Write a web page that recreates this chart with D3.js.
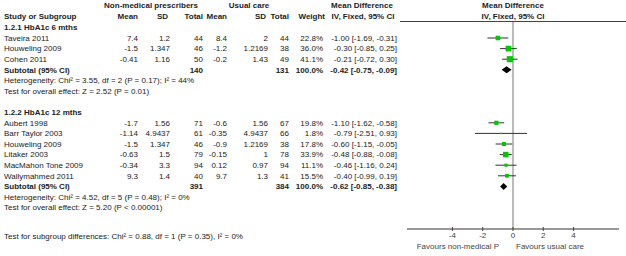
<!DOCTYPE html>
<html><head><meta charset="utf-8">
<script src="https://cdn.jsdelivr.net/npm/d3@7"></script>
<style>
html,body{margin:0;padding:0;background:#fff;}
text{font-family:"Liberation Sans",Arial,sans-serif;font-size:8px;fill:#222;}
.b{font-weight:bold;}
</style></head><body>
<svg id="c" width="626" height="256"></svg>
<script>
// ---- data ----
const group1Title = "1.2.1 HbA1c 6 mths";
const group1Studies = ["Taveira 2011", "Houweling 2009", "Cohen 2011"];
const group1NmpMean = [7.4, -1.5, -0.41];
const group1NmpSD = [1.2, 1.347, 1.16];
const group1NmpN = [44, 46, 50];
const group1UcMean = [8.4, -1.2, -0.2];
const group1UcSD = [2, 1.2169, 1.43];
const group1UcN = [44, 38, 49];
const group1Weight = [22.8, 36.0, 41.1];
const group1MD = [-1.00, -0.30, -0.21];
const group1Lo = [-1.69, -0.85, -0.72];
const group1Hi = [-0.31, 0.25, 0.30];
const group1Subtotal = {nmpN: 140, ucN: 131, md: -0.42, lo: -0.75, hi: -0.09};
const group1Het = "Heterogeneity: Chi² = 3.55, df = 2 (P = 0.17); I² = 44%";
const group1Test = "Test for overall effect: Z = 2.52 (P = 0.01)";

const group2Title = "1.2.2 HbA1c 12 mths";
const group2Studies = ["Aubert 1998", "Barr Taylor 2003", "Houweling 2009", "Litaker 2003", "MacMahon Tone 2009", "Wallymahmed 2011"];
const group2NmpMean = [-1.7, -1.14, -1.5, -0.63, -0.34, 9.3];
const group2NmpSD = [1.56, 4.9437, 1.347, 1.5, 3.3, 1.4];
const group2NmpN = [71, 61, 46, 79, 94, 40];
const group2UcMean = [-0.6, -0.35, -0.9, -0.15, 0.12, 9.7];
const group2UcSD = [1.56, 4.9437, 1.2169, 1, 0.97, 1.3];
const group2UcN = [67, 66, 38, 78, 94, 41];
const group2Weight = [19.8, 1.8, 17.8, 33.9, 11.1, 15.5];
const group2MD = [-1.10, -0.79, -0.60, -0.48, -0.46, -0.40];
const group2Lo = [-1.62, -2.51, -1.15, -0.88, -1.16, -0.99];
const group2Hi = [-0.58, 0.93, -0.05, -0.08, 0.24, 0.19];
const group2Subtotal = {nmpN: 391, ucN: 384, md: -0.62, lo: -0.85, hi: -0.38};
const group2Het = "Heterogeneity: Chi² = 4.52, df = 5 (P = 0.48); I² = 0%";
const group2Test = "Test for overall effect: Z = 5.20 (P < 0.00001)";

const subgroupTest = "Test for subgroup differences: Chi² = 0.88, df = 1 (P = 0.35), I² = 0%";
const axisTicks = [-4, -2, 0, 2, 4];
const axisDomain = [-7, 7];
const favoursLeft = "Favours non-medical P";
const favoursRight = "Favours usual care";

// ---- layout ----
const svg = d3.select("#c");
const x = d3.scaleLinear().domain(axisDomain).range([407, 619]);
const pitch = 10.6;
const rowY = k => 38 + pitch * k;
const fmt = v => v.toFixed(2);
const ciText = (m, l, h) => `${fmt(m)} [${fmt(l)}, ${fmt(h)}]`;

const col = {nmpMean: 138, nmpSD: 170, nmpN: 203, ucMean: 227, ucSD: 268, ucN: 289, w: 323, ci: 397};

function txt(xp, y, s, anchor, cls) {
  return svg.append("text").attr("x", xp).attr("y", y).attr("dy", "0.35em")
    .attr("text-anchor", anchor || "start").attr("class", cls || null).text(s);
}

// headers
txt(151, 5, "Non-medical prescribers", "middle", "b");
txt(249, 5, "Usual care", "middle", "b");
txt(362, 5, "Mean Difference", "middle", "b");
txt(x(0), 5, "Mean Difference", "middle", "b");
txt(4, 16, "Study or Subgroup", "start", "b");
txt(col.nmpMean, 16, "Mean", "end", "b");
txt(168, 16, "SD", "end", "b");
txt(col.nmpN, 16, "Total", "end", "b");
txt(col.ucMean, 16, "Mean", "end", "b");
txt(266, 16, "SD", "end", "b");
txt(col.ucN, 16, "Total", "end", "b");
txt(325, 16, "Weight", "end", "b");
txt(363, 16, "IV, Fixed, 95% CI", "middle", "b");
txt(x(0), 16, "IV, Fixed, 95% CI", "middle", "b");

svg.append("line").attr("x1", 400).attr("x2", 626).attr("y1", 21.5).attr("y2", 21.5)
  .attr("stroke", "#444").attr("stroke-width", 1);

// zero line
svg.append("line").attr("x1", x(0)).attr("x2", x(0)).attr("y1", 22).attr("y2", 229)
  .attr("stroke", "#bbb").attr("stroke-width", 2);

function drawGroup(startK, title, studies, nm, ns, nn, um, us, un, w, md, lo, hi, sub, het, test) {
  txt(4, rowY(startK - 1), title, "start", "b");
  studies.forEach((s, i) => {
    const y = rowY(startK + i);
    txt(4, y, s);
    txt(col.nmpMean, y, String(nm[i]), "end");
    txt(col.nmpSD, y, String(ns[i]), "end");
    txt(col.nmpN, y, String(nn[i]), "end");
    txt(col.ucMean, y, String(um[i]), "end");
    txt(col.ucSD, y, String(us[i]), "end");
    txt(col.ucN, y, String(un[i]), "end");
    txt(col.w, y, w[i].toFixed(1) + "%", "end");
    txt(col.ci, y, ciText(md[i], lo[i], hi[i]), "end");
    svg.append("line").attr("x1", x(lo[i])).attr("x2", x(hi[i])).attr("y1", y).attr("y2", y)
      .attr("stroke", "#333").attr("stroke-width", 1);
    const side = Math.max(1.5, 0.95 * Math.sqrt(w[i]));
    svg.append("rect").attr("x", x(md[i]) - side / 2).attr("y", y - side / 2)
      .attr("width", side).attr("height", side).attr("fill", "#00c800");
  });
  const ys = rowY(startK + studies.length);
  txt(4, ys, "Subtotal (95% CI)", "start", "b");
  txt(col.nmpN, ys, String(sub.nmpN), "end", "b");
  txt(col.ucN, ys, String(sub.ucN), "end", "b");
  txt(col.w, ys, "100.0%", "end", "b");
  txt(col.ci, ys, ciText(sub.md, sub.lo, sub.hi), "end", "b");
  const h = 3.5;
  svg.append("path").attr("d",
    `M${x(sub.lo)},${ys} L${x(sub.md)},${ys - h} L${x(sub.hi)},${ys} L${x(sub.md)},${ys + h} Z`)
    .attr("fill", "#000");
  txt(4, rowY(startK + studies.length + 1), het);
  txt(4, rowY(startK + studies.length + 2), test);
}

drawGroup(0, group1Title, group1Studies, group1NmpMean, group1NmpSD, group1NmpN,
  group1UcMean, group1UcSD, group1UcN, group1Weight, group1MD, group1Lo, group1Hi,
  group1Subtotal, group1Het, group1Test);
drawGroup(8, group2Title, group2Studies, group2NmpMean, group2NmpSD, group2NmpN,
  group2UcMean, group2UcSD, group2UcN, group2Weight, group2MD, group2Lo, group2Hi,
  group2Subtotal, group2Het, group2Test);

txt(4, 236, subgroupTest);

// axis
const axisY = 229;
const ax = svg.append("g").attr("transform", `translate(0,${axisY})`);
ax.append("line").attr("x1", x(axisDomain[0])).attr("x2", x(axisDomain[1]))
  .attr("stroke", "#333").attr("stroke-width", 1);
ax.selectAll("line.t").data(axisTicks).enter().append("line").attr("class", "t")
  .attr("x1", d => x(d)).attr("x2", d => x(d)).attr("y1", -2).attr("y2", 2)
  .attr("stroke", "#444");
ax.selectAll("text.t").data(axisTicks).enter().append("text").attr("class", "t")
  .attr("x", d => x(d)).attr("y", 6).attr("dy", "0.35em").attr("text-anchor", "middle")
  .style("fill", "#444").text(d => d < 0 ? "-" + Math.abs(d) : String(d));
txt(x(0) - 14, 246, favoursLeft, "end").style("fill", "#444");
txt(x(0) + 3, 246, favoursRight, "start").style("fill", "#444");
</script>
</body></html>
